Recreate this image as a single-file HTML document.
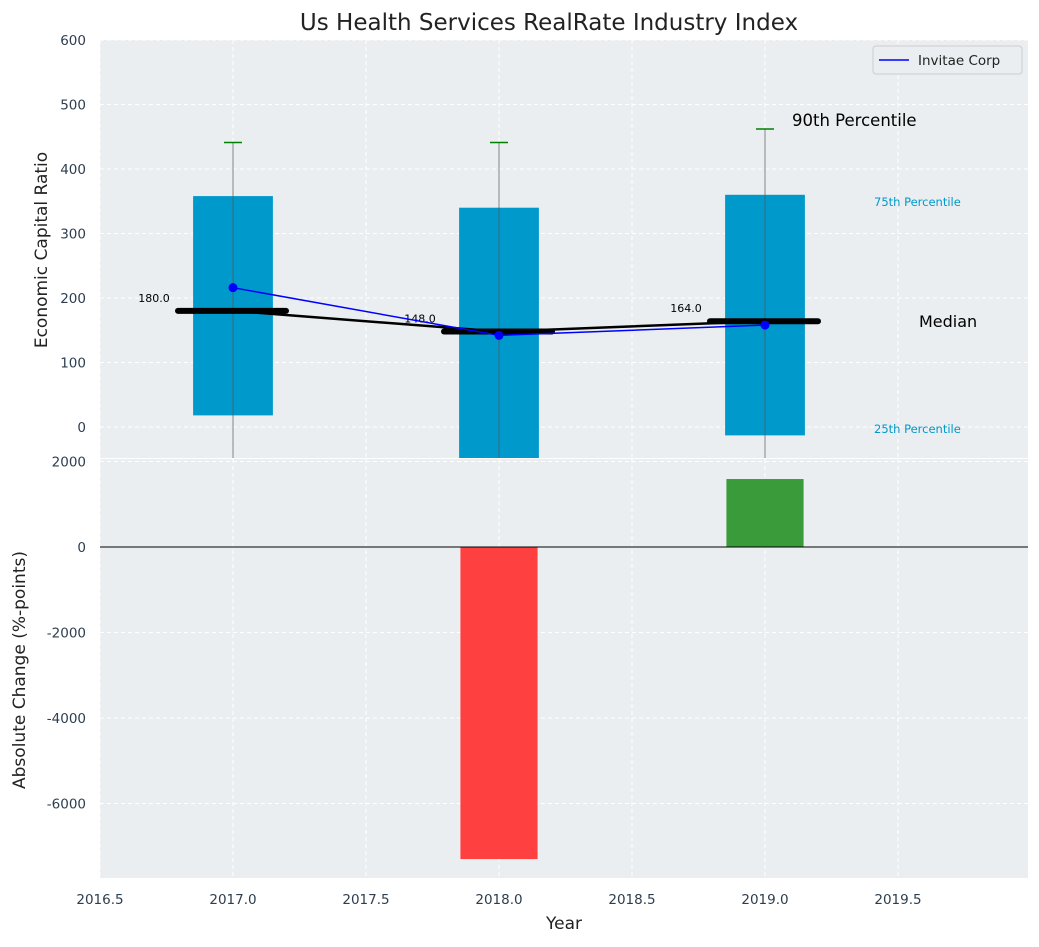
<!DOCTYPE html>
<html><head><meta charset="utf-8"><style>
body{margin:0;background:#fff;}
svg text{font-family:"DejaVu Sans","Liberation Sans",sans-serif;}
</style></head><body>
<svg id="chart" width="1039" height="942" xmlns="http://www.w3.org/2000/svg"></svg>
<script>
const years=[2017,2018,2019];
const q1=[18,-50,-13];
const q3=[358,340,360];
const p90=[441,441,462];
const p10=[-50,-50,-50];
const medians=[180,148,164];
const company=[216,142,158];
const changes=[0,-7300,1590];
const xTicks=[2016.5,2017.0,2017.5,2018.0,2018.5,2019.0,2019.5];
const yTopTicks=[0,100,200,300,400,500,600];
const yBotTicks=[-6000,-4000,-2000,0,2000];

const NS="http://www.w3.org/2000/svg";
const svg=document.getElementById('chart');
function el(t,a,txt){const e=document.createElementNS(NS,t);for(const k in a)e.setAttribute(k,a[k]);if(txt!==undefined)e.textContent=txt;svg.appendChild(e);return e;}
const L=100,R=1028,T1=40,B1=458,T2=459,B2=878;
const X=v=>233+266*(v-2017);
const Y1=v=>427-0.645*v;
const Y2=v=>547-v*85.5/2000;

let e;
e=el('rect',{x:L,y:T1,width:R-L,height:B1-T1,fill:'#eaeef0'});

e=el('rect',{x:L,y:T2,width:R-L,height:B2-T2,fill:'#eaeef0'});


xTicks.forEach(t=>{
  el('line',{x1:X(t),x2:X(t),y1:T1,y2:B1,stroke:'#fff','stroke-dasharray':'4,3','stroke-width':1});
  el('line',{x1:X(t),x2:X(t),y1:T2,y2:B2,stroke:'#fff','stroke-dasharray':'4,3','stroke-width':1});
  e=el('text',{x:X(t),y:904,'font-size':13.5,fill:'#2d3e50','text-anchor':'middle'},t.toFixed(1));
  
});
yTopTicks.forEach(t=>{
  el('line',{x1:L,x2:R,y1:Y1(t),y2:Y1(t),stroke:'#fff','stroke-dasharray':'4,3'});
  e=el('text',{x:86,y:Y1(t)+5,'font-size':13.5,fill:'#2d3e50','text-anchor':'end'},t);
  
});
yBotTicks.forEach(t=>{
  el('line',{x1:L,x2:R,y1:Y2(t),y2:Y2(t),stroke:'#fff','stroke-dasharray':'4,3'});
  e=el('text',{x:86,y:Y2(t)+5,'font-size':13.5,fill:'#2d3e50','text-anchor':'end'},t);
  
});

const clip=v=>Math.min(B1,Y1(v));
years.forEach((yr,i)=>{
  const cx=X(yr),w=0.3*266;
  e=el('rect',{x:cx-w/2,y:Y1(q3[i]),width:w,height:clip(q1[i])-Y1(q3[i]),fill:'#0099cc'});
  
  e=el('line',{x1:cx,x2:cx,y1:Y1(p90[i]),y2:clip(p10[i]),stroke:'#555','stroke-width':1,opacity:0.7});
  
  e=el('line',{x1:cx-9,x2:cx+9,y1:Y1(p90[i]),y2:Y1(p90[i]),stroke:'green','stroke-width':1.5});
  
});
e=el('polyline',{points:years.map((y,i)=>X(y)+','+Y1(medians[i])).join(' '),fill:'none',stroke:'#000','stroke-width':2.5});

years.forEach((yr,i)=>{
  const cx=X(yr);
  e=el('line',{x1:cx-55,x2:cx+53,y1:Y1(medians[i]),y2:Y1(medians[i]),stroke:'#000','stroke-width':6,'stroke-linecap':'round'});
  
  e=el('text',{x:cx-79,y:Y1(medians[i])-9,'font-size':11,fill:'#000','text-anchor':'middle'},medians[i].toFixed(1));
  
});
e=el('polyline',{points:years.map((y,i)=>X(y)+','+Y1(company[i])).join(' '),fill:'none',stroke:'#0000ff','stroke-width':1.5});

years.forEach((yr,i)=>{
  e=el('circle',{cx:X(yr),cy:Y1(company[i]),r:4.5,fill:'#0000ff'});
  
});
[['90th Percentile',792,126,16.5,'#000'],['75th Percentile',874,206,11.5,'#0099cc'],['Median',919,327,16,'#000'],['25th Percentile',874,433,11.5,'#0099cc']].forEach(a=>{
  e=el('text',{x:a[1],y:a[2],'font-size':a[3],fill:a[4]},a[0]);
  
});
e=el('rect',{x:873,y:46,width:149,height:28,fill:'#eaeef0',stroke:'#ccc',rx:3});

el('line',{x1:879,x2:909,y1:60,y2:60,stroke:'#0000ff','stroke-width':1.5});
e=el('text',{x:918,y:65,'font-size':13.5,fill:'#222'},'Invitae Corp');


years.forEach((yr,i)=>{
  if(!changes[i])return;
  const cx=X(yr),w=0.29*266,y0=Y2(0),y1=Y2(changes[i]);
  e=el('rect',{x:cx-w/2,y:Math.min(y0,y1),width:w,height:Math.abs(y1-y0),fill:changes[i]<0?'#ff4040':'#3a9b3a'});
  
});
e=el('line',{x1:L,x2:R,y1:Y2(0),y2:Y2(0),stroke:'#000','stroke-width':1});


e=el('text',{x:549,y:30,'font-size':23,fill:'#222','text-anchor':'middle'},'Us Health Services RealRate Industry Index');

e=el('text',{x:564,y:929,'font-size':17,fill:'#222','text-anchor':'middle'},'Year');

e=el('text',{x:0,y:0,'font-size':17,fill:'#222','text-anchor':'middle',transform:'translate(47,250) rotate(-90)'},'Economic Capital Ratio');

e=el('text',{x:0,y:0,'font-size':17,fill:'#222','text-anchor':'middle',transform:'translate(25,670) rotate(-90)'},'Absolute Change (%-points)');

</script>
</body></html>
